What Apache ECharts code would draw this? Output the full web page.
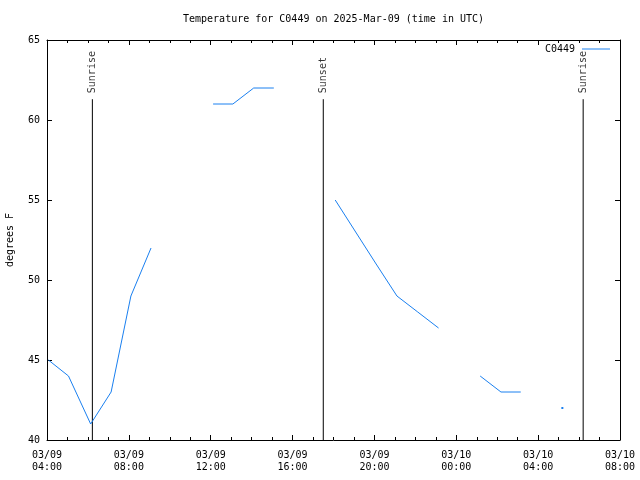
<!DOCTYPE html>
<html>
<head>
<meta charset="utf-8">
<script src="https://cdn.jsdelivr.net/npm/echarts@6/dist/echarts.min.js"></script>
<style>html,body{margin:0;padding:0;background:#fff}#c{width:640px;height:480px}</style>
</head>
<body>
<div id="c"></div>
<script>
// Observation times (UTC) and temperatures (deg F); null = gap in record
const times = ["03/09 04:04","03/09 05:03","03/09 06:08","03/09 07:08","03/09 08:06","03/09 09:05",
  "03/09 10:30",
  "03/09 12:07","03/09 13:05","03/09 14:06","03/09 15:05",
  "03/09 16:30",
  "03/09 18:05","03/09 19:05","03/09 20:05","03/09 21:06","03/09 22:07","03/09 23:08",
  "03/10 00:10",
  "03/10 01:10","03/10 02:11","03/10 03:09",
  "03/10 04:10",
  "03/10 05:11"];
const temps = [45,44,41,43,49,52,
  null,
  61,61,62,62,
  null,
  55,53,51,49,48,47,
  null,
  44,43,43,
  null,
  42];
const eventTimes = ["03/09 06:13","03/09 17:30","03/10 06:12"];
const eventNames = ["Sunrise","Sunset","Sunrise"];
const eventTop = 61.3;
const yTicks = {min:40, max:65, step:5};
const xTicks = {min:4, max:32, step:4}; // hours since 03/09 00:00 UTC

function toHours(s){
  const [md, hm] = s.split(" ");
  const day = parseInt(md.split("/")[1],10);
  const [h,m] = hm.split(":").map(Number);
  return (day-9)*24 + h + m/60;
}
const lineColor = '#1a80f0';
const font = 'DejaVu Sans Mono';

const data = times.map((t,i)=>{
  const v = [toHours(t), temps[i]];
  const prevNull = i===0 || temps[i-1]===null;
  const nextNull = i===temps.length-1 || temps[i+1]===null;
  if (temps[i]!==null && prevNull && nextNull) {
    return {value:v, symbol:'rect', symbolSize:2, itemStyle:{color:lineColor}};
  }
  return v;
});

const series = [{
  name:'C0449', type:'line', data:data, xAxisIndex:0, yAxisIndex:0,
  symbol:'none', showSymbol:true, connectNulls:false,
  lineStyle:{color:lineColor, width:1}, itemStyle:{color:lineColor},
  animation:false, z:3
}];
eventTimes.forEach((t,i)=>{
  const x = toHours(t);
  series.push({
    type:'line', data:[[x,yTicks.min],[x,eventTop]], symbol:'none',
    lineStyle:{color:'#000', width:1}, animation:false, silent:true, z:2
  });
  series.push({
    type:'scatter', data:[[x,eventTop]], symbolSize:0, animation:false, silent:true,
    label:{show:true, formatter:eventNames[i], position:'top', distance:6,
      rotate:90, align:'left', verticalAlign:'middle',
      fontFamily:font, fontSize:10, color:'#000'}
  });
});

function xLabel(v){
  const day = 9 + Math.floor(v/24);
  const h = v % 24;
  return '03/' + String(day).padStart(2,'0') + '\n' + String(h).padStart(2,'0') + ':00';
}

const axisCommon = {
  axisLine:{show:true, onZero:false, lineStyle:{color:'#000', width:1}},
  axisTick:{show:true, inside:true, length:5, lineStyle:{color:'#000'}},
  splitLine:{show:false}
};

const chart = echarts.init(document.getElementById('c'), null, {renderer:'canvas'});
chart.setOption({
  backgroundColor:'#fff',
  animation:false,
  title:{text:'Temperature for C0449 on 2025-Mar-09 (time in UTC)', left:183, top:14, padding:0,
    textStyle:{fontFamily:font, fontSize:10, fontWeight:'normal', color:'#000'}},
  legend:{data:['C0449'], right:25, top:39, align:'right', icon:'rect', itemWidth:28, itemHeight:1,
    itemGap:5, textStyle:{fontFamily:font, fontSize:10, color:'#000', padding:[0,2,0,0]}},
  grid:{left:47, right:20, top:40, bottom:40, containLabel:false, outerBoundsMode:'none'},
  xAxis:[
    Object.assign({type:'value', min:xTicks.min, max:xTicks.max, interval:xTicks.step, position:'bottom',
      axisLabel:{formatter:xLabel, fontFamily:font, fontSize:10, color:'#000', margin:9, lineHeight:12},
      minorTick:{show:true, splitNumber:4, length:3, lineStyle:{color:'#000'}}}, axisCommon),
    Object.assign({type:'value', min:xTicks.min, max:xTicks.max, interval:xTicks.step, position:'top',
      axisLabel:{show:false},
      minorTick:{show:true, splitNumber:4, length:3, lineStyle:{color:'#000'}}}, axisCommon)
  ],
  yAxis:[
    Object.assign({type:'value', min:yTicks.min, max:yTicks.max, interval:yTicks.step, position:'left',
      name:'degrees F', nameLocation:'middle', nameGap:32,
      nameTextStyle:{fontFamily:font, fontSize:10, color:'#000'},
      axisLabel:{fontFamily:font, fontSize:10, color:'#000', margin:7}}, axisCommon),
    Object.assign({type:'value', min:yTicks.min, max:yTicks.max, interval:yTicks.step, position:'right',
      axisLabel:{show:false}}, axisCommon)
  ],
  series:series
});
</script>
</body>
</html>
